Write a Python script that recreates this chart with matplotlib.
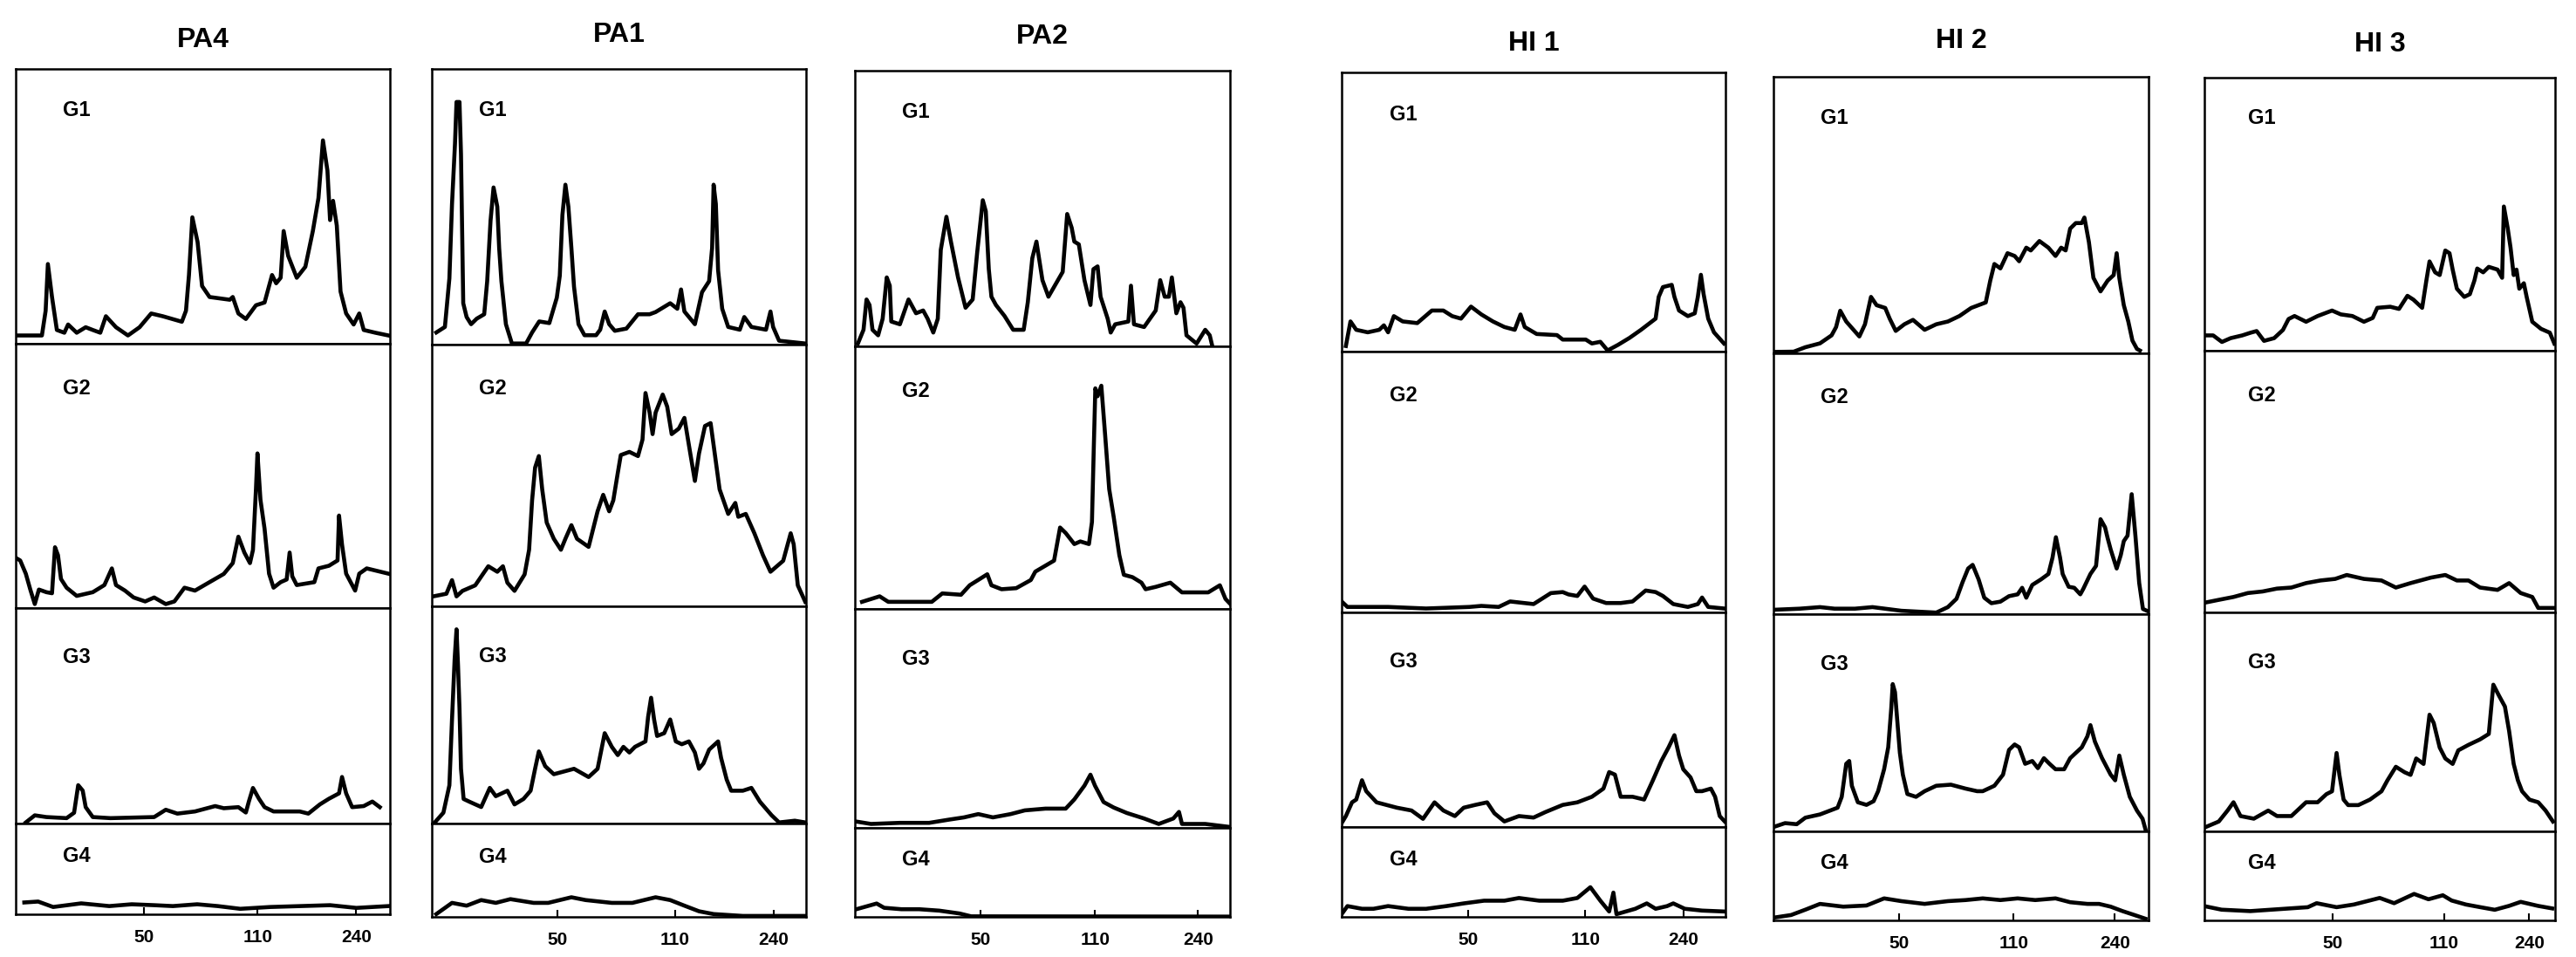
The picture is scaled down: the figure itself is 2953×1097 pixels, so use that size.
import matplotlib
matplotlib.use("Agg")
import matplotlib.pyplot as plt
from matplotlib import font_manager

# ---- data: (x in % of panel width, y in % of panel height) ----
pa4_g1 = [(0,3),(7,3),(8,12),(8.6,29),(9.7,17),(11,5),(13,4),(14,7),(16.3,4),(18.7,6),(20.6,5),(22.6,4),(24.1,10),(26.8,6),(30,3),(33.1,6),(36.2,11),(39.3,10),(44.4,8),(45.5,12),(46.3,25),(47.2,46),(48.6,37),(49.8,21),(51.8,17),(57.2,16),(58,17),(59.5,11),(61.5,9),(64.2,14),(66.5,15),(68.5,25),(69.6,22),(70.8,24),(71.6,41),(72.8,32),(75.1,24),(77.4,28),(79.4,41),(80.9,53),(82.1,74),(83.3,63),(84,45),(84.8,52),(85.8,43),(86.8,19),(88.3,11),(90.3,7),(91.8,11),(93,5),(96.1,4),(99.6,3)]
pa4_g2 = [(0,19),(1.2,18),(2.7,13),(3.9,7),(5.1,1.5),(6.2,7),(8.2,6),(9.7,5.6),(10.5,23),(11.3,20),(12.1,11),(13.6,7.7),(16.3,4.6),(20.6,6),(23.7,8.7),(25.7,15),(26.8,8.7),(29.2,6.6),(31.5,4),(34.6,2.5),(37,4),(40.1,1.5),(42.4,2.5),(45.1,7.7),(47.9,6.6),(51.8,9.8),(55.6,12.9),(58,17),(59.5,27),(61.1,21),(62.6,17),(63.4,22),(64.2,45),(64.6,58.5),(65.4,41),(66.5,30),(67.7,13),(68.9,7.7),(70.8,9.8),(72.4,10.8),(73.2,21),(73.9,12),(75.1,8.7),(79.8,9.8),(80.9,15),(83.7,16),(86,18),(86.4,35),(87.2,24),(88.3,13),(90.7,6.6),(91.8,13),(93.8,15),(99.6,13)]
pa4_g3 = [(2.7,0.5),(5.1,3.8),(8.2,3),(13.6,2.5),(15.6,5),(16.7,17.8),(17.9,15.3),(18.7,7.6),(20.6,3),(25.3,2.5),(37,3),(40.1,6.4),(43.2,4.6),(47.9,5.6),(53.3,8.1),(55.6,7.1),(59.5,7.6),(61.5,5.1),(62.3,10.2),(63.4,16.5),(65,11.5),(66.5,7.6),(68.9,5.6),(75.9,5.6),(78.2,4.6),(81.3,8.9),(83.7,11.5),(86.4,14),(87.2,21.6),(88.3,14),(89.9,7.6),(93,8.1),(95.3,10.2),(97.3,7.6)]
pa4_g4 = [(2.3,13),(6,14),(10,8),(17.5,12),(25,9),(31,11),(37,10),(42,9),(48.5,11),(54,9),(60,6),(68,8),(76,9),(84,10),(91,7),(99.6,9)]

pa1_g1 = [(1.2,4.4),(3.5,6.4),(4.7,24),(5.4,51),(6.2,73),(6.6,88),(7.4,88),(7.8,69),(8.4,15),(9.3,10),(10.5,7.4),(12,9.4),(14,11),(14.8,23),(15.7,45),(16.5,57),(17.5,50),(18,35),(18.6,23),(19.8,7.4),(21.4,0.4),(25.2,0.4),(26.8,4.4),(28.7,8.4),(31.4,7.8),(33.4,17),(34.2,25),(34.9,47),(35.7,58),(36.5,50),(37.3,35),(38,21),(39.2,7.4),(40.8,3.4),(43.9,3.4),(45,5.4),(46.2,12),(47.4,7.4),(48.9,5),(52,5.8),(55.1,11),(58.2,11),(59.8,11.8),(63.7,15),(65.6,13),(66.6,20),(67.5,12),(70.3,7.4),(72.2,19),(74.1,23),(74.9,35),(75.3,58),(75.9,51),(76.5,27),(77.6,13),(79.2,6.4),(82.3,5.4),(83.5,10),(85.4,6.4),(89.3,5.4),(90.5,12),(91.2,6.4),(92.8,1.4),(99.8,0.4)]
pa1_g2 = [(0.4,3.8),(3.9,4.8),(5.4,10),(6.6,3.8),(8.2,5.9),(11.6,8),(13.6,12.2),(15.1,15.3),(17.5,13.2),(19,15.3),(20.2,9),(22.1,5.9),(24.8,12.2),(26,21.6),(26.8,40.5),(27.6,53),(28.6,57.4),(29.5,44.7),(30.7,32),(32.6,25.8),(34.5,21.6),(35.7,25.8),(37.3,31),(38.8,25.8),(41.9,22.7),(44.3,36.3),(45.8,42.6),(47.4,36.3),(48.5,40.5),(49.7,51),(50.5,57.8),(52.8,59),(55.1,57.4),(56.3,63.7),(57.1,81.5),(58.2,74),(59,65.8),(59.8,74),(61.7,80.9),(62.9,76.3),(64.1,65.8),(66,67.9),(67.5,72),(68.7,61.6),(70.3,47.9),(71.4,58.4),(73,68.9),(74.5,70),(75.3,61.6),(76.9,44.7),(79.2,35.3),(81.1,39.5),(81.9,34.2),(83.9,35.3),(86.2,27.9),(88.5,19.5),(90.5,13.2),(93.9,17.4),(95.9,27.9),(96.7,23.7),(97.8,8),(99.8,1.7)]
pa1_g3 = [(0.8,0.5),(3.1,5),(4.7,17.6),(5.4,47.9),(6.1,75.6),(6.6,89.4),(7,73),(7.4,52.9),(7.8,25.2),(8.5,11.3),(10.1,10),(13.2,7.6),(15.5,16.4),(17.1,12.6),(20.2,15.1),(22.1,8.8),(24.5,11.3),(26.4,15.1),(27.6,25.2),(28.6,33.2),(30.3,26.4),(32.6,22.7),(38,25.2),(41.9,21.4),(44.3,25.2),(46.2,41.6),(48.1,35.3),(49.7,31.5),(51.2,35.3),(52.8,32.7),(54.3,35.3),(57.1,37.8),(57.8,49.1),(58.6,57.9),(59.4,47.9),(60.2,40.3),(62.1,41.6),(63.7,47.9),(65.2,37.8),(66.8,36.5),(68.7,37.8),(70.3,32.7),(71.4,25.2),(72.6,27.7),(74.1,34),(76.5,37.8),(77.3,30.2),(78.8,20.2),(80,15.1),(83.1,15.1),(85.4,16.4),(87.7,10),(90.8,3.8),(92.8,0.5),(97,1.3),(99.8,0.5)]
pa1_g4 = [(1.2,3),(5.4,15),(9.3,12),(13.2,18),(17.1,15),(21,19),(27.2,15),(31.1,15),(37.3,21),(41.1,18),(48.1,15),(53.6,15),(59.8,21),(63.7,18),(67.5,12),(71.4,6),(75.3,3),(83.1,1),(99.8,1)]

pa2_g1 = [(0.8,1),(2.3,6),(3.1,17),(3.9,15),(4.7,6),(6.2,4),(7.4,10),(8.5,25),(9.3,22),(9.7,9),(12,8),(14.3,17),(16.3,12),(18.2,13),(19.4,10),(20.9,5),(22.1,10),(22.9,35),(24.4,47),(25.6,38),(27.5,25),(29.5,14),(31.4,17),(32.6,34),(34.1,53),(34.9,49),(35.7,28),(36.4,18),(37.6,15),(39.9,11),(42.2,6),(45,6),(46.1,16),(47.3,32),(48.4,38),(50,24),(51.6,18),(55.4,27),(56.6,48),(57.8,43),(58.5,38),(59.7,37),(61.2,24),(62.8,15),(63.6,28),(64.7,29),(65.5,18),(67.4,10),(68.2,5),(69.4,8),(72.9,9),(73.6,22),(74.4,8),(77.1,7),(80.2,13),(81.4,24),(82.6,18),(83.7,18),(84.5,25),(85.7,12),(86.8,16),(87.6,14),(88.4,4),(91.1,1),(93.4,6),(94.6,4),(95.3,0)]
pa2_g2 = [(1.9,2.7),(6.6,4.8),(8.9,2.7),(15.9,2.7),(20.5,2.7),(23.3,5.9),(28.3,5.4),(30.6,9),(35.3,13.2),(36.4,9),(39.1,7.5),(43,7.9),(46.9,11),(48.1,14.2),(53.1,18.4),(54.7,31),(56.2,28.9),(58.5,24.7),(60.1,25.7),(62.4,24.7),(63.2,33.1),(63.7,62),(64.1,84),(64.7,81),(65.7,85),(66.7,66.5),(67.8,45.6),(69,35),(70.5,20.5),(71.7,13),(74,12.1),(76.4,10),(77.5,7.5),(80.2,8.4),(84.1,10),(87.2,6.3),(91.1,6.3),(94.2,6.3),(97.3,9),(98.8,3.8),(100,2)]
pa2_g3 = [(0,3),(4.3,1.8),(12,2.3),(19.8,2.3),(25.2,3.8),(29.1,4.8),(32.9,6.3),(36.8,4.8),(41.5,6.3),(45.3,8),(50.8,8.8),(56.2,8.8),(58.5,13),(61.2,19.3),(62.8,24.3),(64,19.3),(66.3,11.8),(69,9.3),(72.5,6.8),(77.1,4.3),(81,1.8),(84.9,4.3),(86.4,7.3),(87.2,1.8),(93.4,1.8),(99.6,0.5)]
pa2_g4 = [(0.4,8.6),(3.1,11.8),(5.8,15),(7.8,10.2),(12.4,8.6),(17.1,8.6),(22.5,7),(27.9,3.8),(31,0.6),(100,0.3)]

hi1_g1 = [(1.1,2),(2.3,10.8),(3.8,7.8),(6.8,6.9),(9.8,7.8),(11,9.4),(12.1,6.9),(13.6,12.7),(15.9,10.8),(19.7,10.2),(23.5,14.7),(26.5,14.7),(28.8,12.7),(31.1,11.8),(33.7,16.1),(36.4,13.3),(39.4,10.8),(42.4,8.8),(45.1,7.8),(46.6,13.3),(47.7,8.8),(50.8,6.3),(56.1,5.9),(57.6,4.3),(63.6,4.3),(65.2,2.9),(67.4,3.5),(69.3,0.4),(72,2.4),(75,4.9),(78,7.8),(81.8,11.8),(82.6,19.6),(83.7,23.1),(86,23.9),(86.7,19.6),(87.9,14.7),(90.2,12.7),(92,13.7),(92.8,19.6),(93.6,27.5),(94.3,20.6),(95.5,11.8),(97,6.9),(99.6,2.9)]
hi1_g2 = [(0,4.2),(1.5,2.1),(12.1,2.1),(22,1.5),(33.3,2.1),(36.4,2.5),(40.9,2.1),(43.9,4.2),(50,3.2),(54.5,7.4),(57.6,7.8),(59.1,6.9),(61.4,6.3),(63.3,9.9),(65.5,5.3),(68.9,3.6),(72.7,3.6),(75.8,4.2),(79.2,8.4),(81.8,7.8),(83.7,6.3),(86.4,3.2),(90.2,2.1),(92.8,3.2),(93.9,5.7),(95.5,2.1),(99.6,1.5)]
hi1_g3 = [(0,1.8),(1.1,5.1),(2.7,11.5),(3.8,12.8),(5.3,21.8),(6.4,16.7),(9.1,11.5),(14.4,9),(18.2,7.7),(21.2,3.8),(24.2,11.5),(26.5,7.7),(29.5,5.1),(31.8,9),(34.8,10.3),(37.9,11.5),(39.8,6.4),(42.4,2.6),(46.2,5.1),(50,4.4),(53,6.9),(57.6,10.3),(61.4,11.5),(65.2,14.1),(68.2,17.9),(69.7,25.6),(71.2,24.4),(72.7,14.1),(75.8,14.1),(78.8,12.8),(81.1,21.8),(83.3,30.8),(85.2,37.2),(86.7,42.8),(87.9,33.3),(89,26.9),(90.9,23.1),(92.4,16.7),(93.9,16.7),(96.2,17.9),(97.3,14.1),(98.5,5.1),(99.8,2.6)]
hi1_g4 = [(0,3),(1.5,12),(5.3,9),(8.3,9),(12.1,12),(17.4,9),(22,9),(27.3,12),(31.8,15),(37.1,18),(42.4,18),(46.2,21),(51.5,18),(57.6,18),(61.4,21),(64.8,33),(67.4,18),(69.7,6),(70.8,27),(71.6,3),(76.5,9),(79.5,15),(81.8,9),(84.8,12),(86.4,15),(89.4,9),(93.9,7),(99.6,6)]

hi2_g1 = [(0,0.5),(5.4,0.6),(8.5,2.2),(12.4,3.6),(15.5,6.5),(16.7,9.5),(17.8,15.4),(19.4,11.5),(22.9,6.1),(24.4,10.5),(26,20.4),(27.5,17.4),(29.8,16.4),(31,12.5),(32.6,8.1),(34.9,10.5),(37.2,12.1),(40.3,8.5),(43.4,10.5),(46.5,11.5),(49.6,13.5),(52.7,16.4),(56.6,18.4),(57.8,26.3),(58.9,32.3),(60.5,30.7),(62.4,36.2),(64.3,35.2),(65.5,33.3),(67.4,38.2),(68.6,37.2),(70.9,40.6),(73.3,38.2),(75.2,35.2),(76.7,38.2),(77.9,37.2),(79.1,45.1),(80.6,47.1),(82.2,47.1),(82.9,49.1),(84.1,40.2),(85.3,27.3),(87.2,22.4),(89.1,26.3),(90.7,28.3),(91.5,36.2),(92.2,27.3),(93.4,17.4),(94.6,11.5),(95.7,4.6),(96.9,1.6),(97.7,1)]
hi2_g2 = [(0.4,1.7),(7,2.1),(12.4,2.7),(16.3,2.1),(21.7,2.1),(26.4,2.7),(34.1,1.3),(43.4,0.6),(46.5,2.7),(48.8,5.9),(50.4,12.2),(51.9,17.5),(53.1,18.9),(54.7,13.3),(56.2,6.3),(58.1,4.2),(60.5,4.8),(62.8,6.9),(65.1,7.6),(66.3,10.1),(67.4,6.3),(69,11.2),(71.3,13.3),(73.3,15.4),(74.4,21.7),(75.3,29.5),(76.4,21.7),(77.1,15.4),(78.7,10.5),(80.2,10.1),(81.8,7.6),(82.6,9.7),(84.5,15.4),(86,18.5),(87.2,36.4),(88.4,33.3),(89.1,29.1),(89.9,24.8),(91.5,17.5),(92.6,22.7),(93.4,28),(94.4,30.1),(95.5,46),(96.5,30),(97.5,12),(98.5,2),(100,1)]
hi2_g3 = [(0,2),(3.1,3.8),(6.2,3.3),(8.5,6.3),(12.4,7.8),(17.1,10.9),(18.2,15.9),(19.4,31.1),(20.2,32.4),(20.9,21),(22.5,13.4),(24.8,12.2),(26.7,13.9),(27.9,18.5),(29.5,28.6),(30.6,38.7),(31.4,56.5),(31.8,67.8),(32.4,64.1),(33.7,36.2),(34.5,26.1),(35.7,17.2),(38,15.9),(40.3,18.5),(43.4,21),(47.3,21.5),(51.2,19.7),(54.3,18.5),(55.8,18.5),(58.9,21),(61.2,26.1),(62.8,37.5),(64.3,40),(65.5,38.7),(67.1,31.1),(69,32.4),(70.5,29.1),(72.1,33.7),(73.6,31.1),(75.2,28.6),(77.5,28.6),(79.1,33.7),(82.2,38.7),(83.7,43.8),(84.5,48.9),(85.7,41.3),(87.6,33.7),(89.9,26.1),(91.1,23.5),(92.2,34.9),(93.4,26.1),(95,15.9),(96.9,9.6),(98.4,5.8),(99.2,0.8)]
hi2_g4 = [(0,3),(4.7,6),(8.5,12),(12.4,18.5),(18.6,15.4),(24.8,16.7),(29.5,24.7),(34.1,21.6),(40.3,18.5),(46.5,21.6),(51.2,22.8),(55.8,24.7),(60.5,22.8),(65.1,24.7),(69.8,22.8),(75.2,24.7),(79.1,20.4),(83.7,18.5),(86.8,18.5),(89.9,15.4),(93,10.5),(96.1,6.2),(99.2,1.8)]

hi3_g1 = [(0.4,5.6),(2.5,5.6),(5,3.2),(7.5,4.6),(10.8,5.6),(13.2,6.6),(14.9,7.2),(17,3.6),(19.9,4.6),(22.4,7.6),(24,11.6),(25.7,12.7),(29,10.6),(32.3,12.7),(36.4,14.7),(38.9,13.3),(42.2,12.7),(45.5,10.6),(48,12),(49.3,15.7),(53,16.1),(55.5,15.3),(57.9,20.1),(59.6,18.7),(62.1,15.7),(63.3,25.7),(64.2,32.7),(65.8,28.7),(67.1,27.7),(68.7,36.7),(69.9,35.7),(70.8,29.7),(72,22.7),(74.1,19.7),(75.7,20.7),(77,25.7),(77.8,30.1),(79.5,28.7),(81.1,30.7),(83.6,29.7),(84.9,26.7),(85.4,52.8),(86.5,44.8),(87.3,37.8),(88.2,27.7),(89,29.7),(89.8,22.7),(91.1,24.7),(91.9,19.7),(93.5,10.6),(96,8),(98.5,6.6),(99.8,2.6)]
hi3_g2 = [(0.4,3.8),(4.1,4.8),(8.3,5.9),(12.4,7.4),(16.6,8),(20.7,9.1),(24.8,9.5),(29,11.2),(33.1,12.2),(37.3,12.8),(40.6,14.3),(45.5,12.8),(50.5,12.2),(54.6,9.5),(58.8,11.2),(64.6,13.3),(68.7,14.3),(72,12.2),(75.3,12.2),(78.6,9.5),(83.6,8.6),(86.9,11.2),(90.2,7.4),(93.5,5.9),(95.2,1.7),(99.8,1.7)]
hi3_g3 = [(0.4,2),(4.1,4.5),(6.6,9.5),(8.3,13.3),(10.3,7),(14.1,5.8),(18.2,9.5),(20.7,7),(24.8,7),(29,13.3),(32.3,13.3),(34.8,17),(36.4,18.3),(37.7,35.8),(38.5,25.8),(39.7,14.5),(41,12),(43.9,12),(47.2,14.5),(50.5,18.3),(52.2,23.3),(54.6,29.5),(57.1,27),(58.8,25.8),(60.4,33.3),(62.5,30.8),(64.2,53.3),(65.4,49.5),(67.1,38.3),(68.7,33.3),(70.8,30.8),(72.4,37),(75.3,39.5),(78.6,42),(81.1,44.5),(82.4,67),(84,62),(85.7,57),(86.9,45.8),(88.2,30.8),(89.4,23.3),(90.6,18.3),(92.7,14.5),(95.2,13.3),(97.3,9.5),(99.4,4.5)]
hi3_g4 = [(0,16),(4.9,12),(13.1,10.4),(29.5,14.8),(32,19.3),(37.7,14.8),(42.6,17.8),(50,25.2),(54.1,19.3),(59.8,29.7),(63.9,23.7),(68,28.2),(70.5,22.3),(74.6,17.8),(78.7,14.8),(82.8,11.9),(86.9,16.3),(90.2,20.8),(95.1,16.3),(99.2,13.4)]

titles = ["PA4", "PA1", "PA2", "HI 1", "HI 2", "HI 3"]
groups = ["G1", "G2", "G3", "G4"]
tick_labels = ["50", "110", "240"]
tick_pos = [[34.3, 64.6, 91], [33.6, 65, 91.4], [33.5, 64, 91.5],
            [33, 63.5, 89], [33.5, 64, 91], [36.5, 68.4, 92.6]]
traces = [[pa4_g1, pa4_g2, pa4_g3, pa4_g4],
          [pa1_g1, pa1_g2, pa1_g3, pa1_g4],
          [pa2_g1, pa2_g2, pa2_g3, pa2_g4],
          [hi1_g1, hi1_g2, hi1_g3, hi1_g4],
          [hi2_g1, hi2_g2, hi2_g3, hi2_g4],
          [hi3_g1, hi3_g2, hi3_g3, hi3_g4]]

# ---- layout in output pixels (from top-left) ----
W, H = 2953, 1097
col_x = [(18, 447), (495, 924), (980, 1410), (1538, 1978), (2033, 2463), (2527, 2929)]
col_edges = [[79, 394, 697, 944, 1048],
             [79, 395, 695, 944, 1051],
             [81, 397, 698, 949, 1051],
             [83, 403, 702, 948, 1051],
             [88, 405, 704, 953, 1055],
             [89, 402, 702, 953, 1055]]
title_y = [46, 40, 42, 50, 47, 51]
label_y = [0.85, 0.83, 0.77, 0.64]  # fraction of panel height

names = {f.name for f in font_manager.fontManager.ttflist}
fam = "Liberation Sans" if "Liberation Sans" in names else "DejaVu Sans"

fig = plt.figure(figsize=(W / 100, H / 100), dpi=100)

for c in range(6):
    x0, x1 = col_x[c]
    edges = col_edges[c]
    fig.text((x0 + x1) / 2 / W, 1 - title_y[c] / H, titles[c], ha="center", va="center",
             fontsize=23, fontweight="bold", family=fam)
    for g in range(4):
        top, bot = edges[g], edges[g + 1]
        ax = fig.add_axes([x0 / W, 1 - bot / H, (x1 - x0) / W, (bot - top) / H])
        xs = [p[0] for p in traces[c][g]]
        ys = [p[1] for p in traces[c][g]]
        ax.plot(xs, ys, color="black", lw=3.3, solid_joinstyle="round")
        ax.set_xlim(0, 100)
        ax.set_ylim(0, 100)
        for s in ax.spines.values():
            s.set_linewidth(1.8)
            s.set_color("black")
        ax.text(0.125, label_y[g], groups[g], transform=ax.transAxes, ha="left", va="center",
                fontsize=17, fontweight="bold", family=fam)
        ax.set_yticks([])
        if g == 3:
            ax.set_xticks(tick_pos[c])
            ax.set_xticklabels(tick_labels, family=fam, fontsize=15, fontweight="bold")
            ax.tick_params(axis="x", direction="in", length=6, width=1.5, pad=12)
        else:
            ax.set_xticks([])

fig.savefig("out.png", dpi=100, facecolor="white")
